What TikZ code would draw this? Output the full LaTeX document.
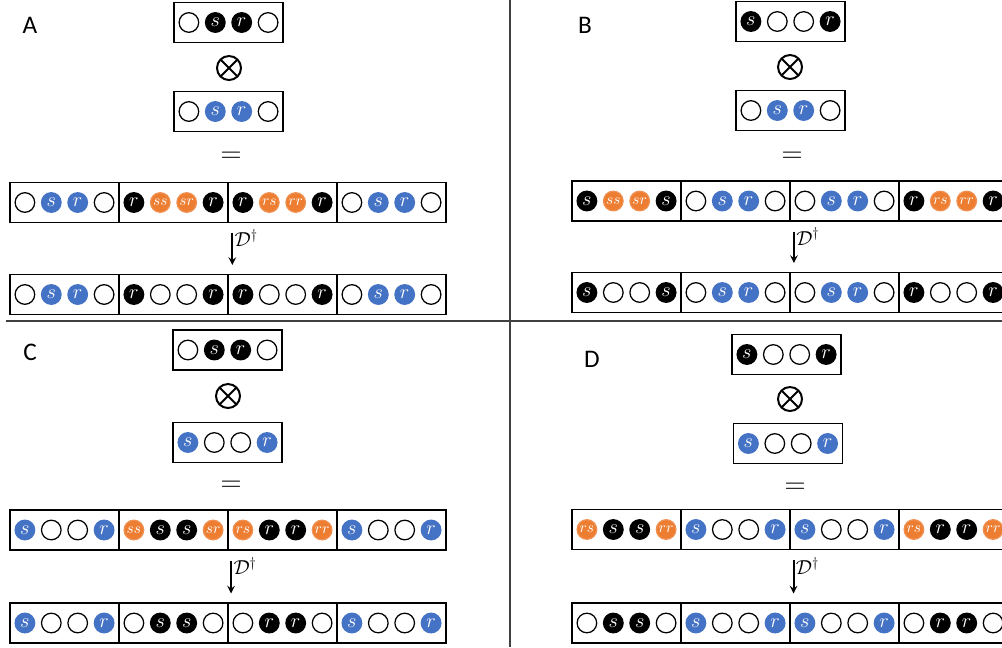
\documentclass[tikz,border=0pt]{standalone}
\usepackage{fontspec}
\newfontfamily\panelfont{Carlito}
\definecolor{siteblue}{HTML}{4472C4}
\definecolor{siteorange}{HTML}{ED7D31}
\definecolor{rulegray}{HTML}{404040}

% one framed register of four sites: name, x, y, list of kind/label
\newcommand{\sitebox}[4]{%
  \node[cellbox] (#1) at ({#2},{#3}) {};
  \foreach \kind/\lab [count=\k] in {#4}
    \node[\kind] (#1-\k) at ({#2+26.4*\k-66},{#3}) {$\lab$};
}
% four registers side by side: name, left x, y, four lists
\newcommand{\siterow}[7]{%
  \sitebox{#1-1}{#2+54.5}{#3}{#4}
  \sitebox{#1-2}{#2+163.5}{#3}{#5}
  \sitebox{#1-3}{#2+272.5}{#3}{#6}
  \sitebox{#1-4}{#2+381.5}{#3}{#7}
}

\begin{document}
\begin{tikzpicture}[>=stealth,x=0.025cm,y=-0.025cm,
    site/.style={circle, inner sep=0pt, minimum size=0.49cm, line width=0.9pt, font=\fontsize{13.5}{14}\selectfont},
    emp/.style={site, draw=black},
    blk/.style={site, draw=black, fill=black, text=white},
    blu/.style={site, draw=siteblue, fill=siteblue, text=white},
    org/.style={site, draw=siteorange!85, fill=siteorange, text=white, font=\fontsize{10.5}{11}\selectfont},
    cellbox/.style={draw, line width=1pt, minimum width=2.725cm, minimum height=1cm, inner sep=0pt},
    prod/.style={circle, draw, line width=1.4pt, minimum size=0.6cm, inner sep=0pt,
      path picture={\draw[line width=1.4pt] (path picture bounding box.north west) -- (path picture bounding box.south east)
        (path picture bounding box.north east) -- (path picture bounding box.south west);}},
    eq/.style={font=\fontsize{21}{21}\selectfont, inner sep=0pt},
    panel/.style={font=\panelfont\fontsize{18}{18}\selectfont, inner sep=0pt},
    flow/.style={->, line width=1.4pt, shorten <=0.25cm, shorten >=0.22cm},
    dlab/.style={right, pos=0.3, inner sep=1pt, font=\fontsize{14}{14}\selectfont},
    divider/.style={rulegray, line width=0.8pt}]
    \useasboundingbox (0,0) rectangle (1002,647);
    \draw[divider] (6,321) -- (1002,321);
    \draw[divider] (510,0) -- (510,647);
    % A
    \node[panel] (labA) at (30,25) {A};
    \sitebox{A1}{228.5}{22.5}{emp/{}, blk/s, blk/r, emp/{}}
    \node[prod] (prodA) at (229,68) {};
    \sitebox{A2}{228.5}{111.5}{emp/{}, blu/s, blu/r, emp/{}}
    \node[eq] (eqA) at (231,157) {$=$};
    \siterow{A3}{10}{202.5}{emp/{}, blu/s, blu/r, emp/{}}{blk/r, org/ss, org/sr, blk/r}{blk/r, org/rs, org/rr, blk/r}{emp/{}, blu/s, blu/r, emp/{}}
    \siterow{A4}{10}{294.5}{emp/{}, blu/s, blu/r, emp/{}}{blk/r, emp/{}, emp/{}, blk/r}{blk/r, emp/{}, emp/{}, blk/r}{emp/{}, blu/s, blu/r, emp/{}}
    \draw[flow] ([xshift=0.09cm]A3-2.south east) -- node[dlab] {$\mathcal{D}^\dagger$} ([xshift=0.09cm]A4-2.north east);
    % B
    \node[panel] (labB) at (585,25) {B};
    \sitebox{B1}{790.5}{21.5}{blk/s, emp/{}, emp/{}, blk/r}
    \node[prod] (prodB) at (790,67) {};
    \sitebox{B2}{790.5}{110.5}{emp/{}, blu/s, blu/r, emp/{}}
    \node[eq] (eqB) at (792,157) {$=$};
    \siterow{B3}{572}{201}{blk/s, org/ss, org/sr, blk/s}{emp/{}, blu/s, blu/r, emp/{}}{emp/{}, blu/s, blu/r, emp/{}}{blk/r, org/rs, org/rr, blk/r}
    \siterow{B4}{572}{292.5}{blk/s, emp/{}, emp/{}, blk/s}{emp/{}, blu/s, blu/r, emp/{}}{emp/{}, blu/s, blu/r, emp/{}}{blk/r, emp/{}, emp/{}, blk/r}
    \draw[flow] ([xshift=0.08cm]B3-2.south east) -- node[dlab] {$\mathcal{D}^\dagger$} ([xshift=0.08cm]B4-2.north east);
    % C
    \node[panel] (labC) at (30,352) {C};
    \sitebox{C1}{227.5}{350}{emp/{}, blk/s, blk/r, emp/{}}
    \node[prod] (prodC) at (228,396) {};
    \sitebox{C2}{227.5}{442.5}{blu/s, emp/{}, emp/{}, blu/r}
    \node[eq] (eqC) at (231,486) {$=$};
    \siterow{C3}{10}{530}{blu/s, emp/{}, emp/{}, blu/r}{org/ss, blk/s, blk/s, org/sr}{org/rs, blk/r, blk/r, org/rr}{blu/s, emp/{}, emp/{}, blu/r}
    \siterow{C4}{10}{623}{blu/s, emp/{}, emp/{}, blu/r}{emp/{}, blk/s, blk/s, emp/{}}{emp/{}, blk/r, blk/r, emp/{}}{blu/s, emp/{}, emp/{}, blu/r}
    \draw[flow] ([xshift=0.06cm]C3-2.south east) -- node[dlab] {$\mathcal{D}^\dagger$} ([xshift=0.06cm]C4-2.north east);
    % D
    \node[panel] (labD) at (592,359) {D};
    \sitebox{D1}{786.5}{354.5}{blk/s, emp/{}, emp/{}, blk/r}
    \node[prod] (prodD) at (790,399) {};
    \sitebox{D2}{788}{443.5}{blu/s, emp/{}, emp/{}, blu/r}
    \node[eq] (eqD) at (795,488) {$=$};
    \siterow{D3}{572}{529.5}{org/rs, blk/s, blk/s, org/rr}{blu/s, emp/{}, emp/{}, blu/r}{blu/s, emp/{}, emp/{}, blu/r}{org/rs, blk/r, blk/r, org/rr}
    \siterow{D4}{572}{623}{emp/{}, blk/s, blk/s, emp/{}}{blu/s, emp/{}, emp/{}, blu/r}{blu/s, emp/{}, emp/{}, blu/r}{emp/{}, blk/r, blk/r, emp/{}}
    \draw[flow] ([xshift=0.07cm]D3-2.south east) -- node[dlab] {$\mathcal{D}^\dagger$} ([xshift=0.07cm]D4-2.north east);
\end{tikzpicture}
\end{document}
